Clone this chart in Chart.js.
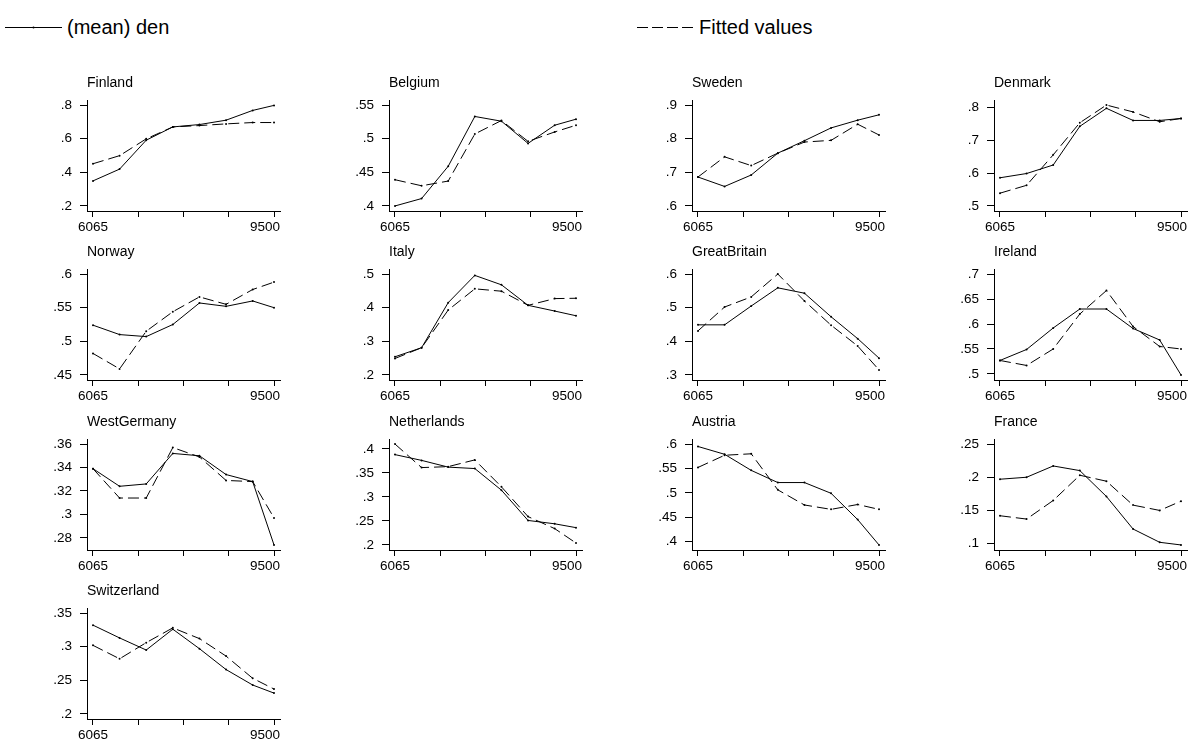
<!DOCTYPE html>
<html>
<head>
<meta charset="utf-8">
<script src="https://cdn.jsdelivr.net/npm/chart.js@4/dist/chart.umd.min.js"></script>
<style>
html, body { margin: 0; padding: 0; background: #fff; width: 1191px; height: 742px; overflow: hidden; }
body { position: relative; font-family: 'Liberation Sans', Arial, sans-serif; color: #000; }
.legend { position: absolute; top: 15px; display: flex; align-items: center; font-size: 20px; height: 24px; white-space: nowrap; }
.legend svg { margin-right: 5px; }
.panel { position: absolute; }
</style>
</head>
<body>
<div class="legend" style="left:5px">
  <svg width="57" height="24"><line x1="0" y1="12.5" x2="57" y2="12.5" stroke="#000" stroke-width="1"/><circle cx="28.5" cy="12.5" r="1" fill="#000"/></svg>(mean) den
</div>
<div class="legend" style="left:637px">
  <svg width="57" height="24"><line x1="0" y1="12.5" x2="57" y2="12.5" stroke="#000" stroke-width="1" stroke-dasharray="11 4"/></svg>Fitted values
</div>
<script>
// panels in reading order
const countries = ['Finland', 'Belgium', 'Sweden', 'Denmark',
                   'Norway', 'Italy', 'GreatBritain', 'Ireland',
                   'WestGermany', 'Netherlands', 'Austria', 'France',
                   'Switzerland'];

const periods = [6065, 6570, 7075, 7580, 8085, 8590, 9095, 9500];
const xTickLabels = ['6065', '', '', '', '9500'];

// (mean) den
const meanDen = [
    [0.349, 0.419, 0.591, 0.670, 0.684, 0.710, 0.768, 0.798],
    [0.400, 0.411, 0.459, 0.533, 0.526, 0.493, 0.520, 0.529],
    [0.686, 0.658, 0.692, 0.757, 0.794, 0.832, 0.855, 0.871],
    [0.586, 0.599, 0.625, 0.743, 0.798, 0.761, 0.761, 0.767],
    [0.524, 0.510, 0.507, 0.525, 0.557, 0.552, 0.560, 0.550],
    [0.254, 0.281, 0.415, 0.496, 0.468, 0.407, 0.390, 0.376],
    [0.449, 0.449, 0.505, 0.559, 0.543, 0.473, 0.408, 0.350],
    [0.527, 0.549, 0.592, 0.630, 0.630, 0.591, 0.568, 0.498],
    [0.339, 0.324, 0.326, 0.352, 0.350, 0.334, 0.328, 0.274],
    [0.388, 0.376, 0.362, 0.359, 0.314, 0.251, 0.244, 0.236],
    [0.595, 0.579, 0.546, 0.521, 0.521, 0.499, 0.445, 0.393],
    [0.197, 0.200, 0.217, 0.210, 0.171, 0.122, 0.102, 0.098],
    [0.332, 0.313, 0.295, 0.326, 0.297, 0.266, 0.243, 0.231]
];

// Fitted values
const fitted = [
    [0.451, 0.499, 0.599, 0.670, 0.678, 0.688, 0.696, 0.696],
    [0.439, 0.430, 0.437, 0.507, 0.527, 0.496, 0.510, 0.520],
    [0.686, 0.746, 0.720, 0.757, 0.790, 0.795, 0.843, 0.811],
    [0.539, 0.563, 0.656, 0.754, 0.808, 0.787, 0.757, 0.767],
    [0.482, 0.459, 0.515, 0.544, 0.566, 0.555, 0.577, 0.588],
    [0.249, 0.281, 0.393, 0.456, 0.449, 0.407, 0.427, 0.428],
    [0.431, 0.502, 0.532, 0.600, 0.520, 0.448, 0.386, 0.315],
    [0.527, 0.517, 0.550, 0.620, 0.667, 0.595, 0.555, 0.550],
    [0.339, 0.314, 0.314, 0.357, 0.349, 0.329, 0.328, 0.297],
    [0.410, 0.361, 0.363, 0.377, 0.321, 0.259, 0.234, 0.204],
    [0.552, 0.577, 0.580, 0.506, 0.475, 0.466, 0.476, 0.466],
    [0.142, 0.137, 0.165, 0.203, 0.194, 0.158, 0.150, 0.164],
    [0.302, 0.282, 0.306, 0.328, 0.312, 0.286, 0.253, 0.237]
];

const yTicks = [
    [0.2, 0.4, 0.6, 0.8],
    [0.4, 0.45, 0.5, 0.55],
    [0.6, 0.7, 0.8, 0.9],
    [0.5, 0.6, 0.7, 0.8],
    [0.45, 0.5, 0.55, 0.6],
    [0.2, 0.3, 0.4, 0.5],
    [0.3, 0.4, 0.5, 0.6],
    [0.5, 0.55, 0.6, 0.65, 0.7],
    [0.28, 0.3, 0.32, 0.34, 0.36],
    [0.2, 0.25, 0.3, 0.35, 0.4],
    [0.4, 0.45, 0.5, 0.55, 0.6],
    [0.1, 0.15, 0.2, 0.25],
    [0.2, 0.25, 0.3, 0.35]
];

// panel geometry
const PLOT_W = 193, PLOT_H = 111;
const Y_W = 48, X_H = 26, TITLE_H = 29, RIGHT_PAD = 18;
const FONT = "'Liberation Sans', Arial, sans-serif";

Chart.defaults.font.family = FONT;
Chart.defaults.color = '#000';

function fmtTick(v) {
    return String(+v.toFixed(3)).replace(/^0\./, '.');
}

// keep the last x label inside the axis, like the original does
const lastLabelInside = {
    id: 'lastLabelInside',
    beforeDraw(chart) {
        const scale = chart.scales.x;
        const items = scale.getLabelItems();
        const last = items[items.length - 1];
        if (last && last.options && last.options.translation) {
            last.options.textAlign = 'right';
            last.options.translation = [scale.right, last.options.translation[1]];
        }
    }
};

countries.forEach((name, i) => {
    const row = Math.floor(i / 4), col = i % 4;
    const plotLeft = 87 + col * 302.3;
    const plotBottom = 211 + row * 169.3;
    const plotTop = plotBottom - PLOT_H;

    const div = document.createElement('div');
    div.className = 'panel';
    div.style.left = Math.round(plotLeft - Y_W) + 'px';
    div.style.top = Math.round(plotTop - TITLE_H) + 'px';
    div.style.width = (Y_W + PLOT_W + RIGHT_PAD) + 'px';
    div.style.height = (TITLE_H + PLOT_H + X_H) + 'px';
    const canvas = document.createElement('canvas');
    div.appendChild(canvas);
    document.body.appendChild(div);

    const ticks = yTicks[i];
    const all = ticks.concat(meanDen[i], fitted[i]);
    const lo = Math.min(...all), hi = Math.max(...all);
    const yPad = 0.05 * (hi - lo);
    const xFirst = periods[0], xLast = periods[periods.length - 1];
    const xPad = 0.033 * (xLast - xFirst);

    new Chart(canvas, {
        type: 'line',
        data: {
            datasets: [{
                label: '(mean) den',
                data: periods.map((p, k) => ({ x: p, y: meanDen[i][k] })),
                borderColor: '#000',
                borderWidth: 1,
                pointRadius: 1,
                pointBackgroundColor: '#000',
                pointBorderWidth: 0,
                tension: 0
            }, {
                label: 'Fitted values',
                data: periods.map((p, k) => ({ x: p, y: fitted[i][k] })),
                borderColor: '#000',
                borderWidth: 1,
                borderDash: [11, 5],
                pointRadius: 1,
                pointBackgroundColor: '#000',
                pointBorderWidth: 0,
                tension: 0
            }]
        },
        options: {
            responsive: true,
            maintainAspectRatio: false,
            animation: false,
            layout: { padding: { left: 0, right: RIGHT_PAD, top: 0, bottom: 0 } },
            plugins: {
                legend: { display: false },
                tooltip: { enabled: false },
                title: {
                    display: true,
                    text: name,
                    align: 'start',
                    fullSize: false,
                    color: '#000',
                    font: { size: 14, lineHeight: 1, weight: 'normal' },
                    padding: { top: 5, bottom: 10 }
                }
            },
            scales: {
                x: {
                    type: 'linear',
                    min: xFirst - xPad,
                    max: xLast + xPad,
                    afterBuildTicks: scale => {
                        scale.ticks = xTickLabels.map((_, k) => ({ value: xFirst + k * (xLast - xFirst) / 4 }));
                    },
                    afterFit: scale => { scale.height = X_H; },
                    ticks: {
                        autoSkip: false,
                        maxRotation: 0,
                        padding: 2,
                        color: '#000',
                        font: { size: 13.5 },
                        callback: (v, k) => xTickLabels[k]
                    },
                    grid: { drawOnChartArea: false, drawTicks: true, tickLength: 6, color: '#000' },
                    border: { display: true, color: '#000', width: 1 }
                },
                y: {
                    min: lo - yPad,
                    max: hi + yPad,
                    afterBuildTicks: scale => {
                        scale.ticks = ticks.map(v => ({ value: v }));
                    },
                    afterFit: scale => { scale.width = Y_W; },
                    ticks: {
                        padding: 8,
                        color: '#000',
                        font: { size: 13.5 },
                        callback: v => fmtTick(v)
                    },
                    grid: { drawOnChartArea: false, drawTicks: true, tickLength: 7, color: '#000' },
                    border: { display: true, color: '#000', width: 1 }
                }
            }
        },
        plugins: [lastLabelInside]
    });
});
</script>
</body>
</html>
